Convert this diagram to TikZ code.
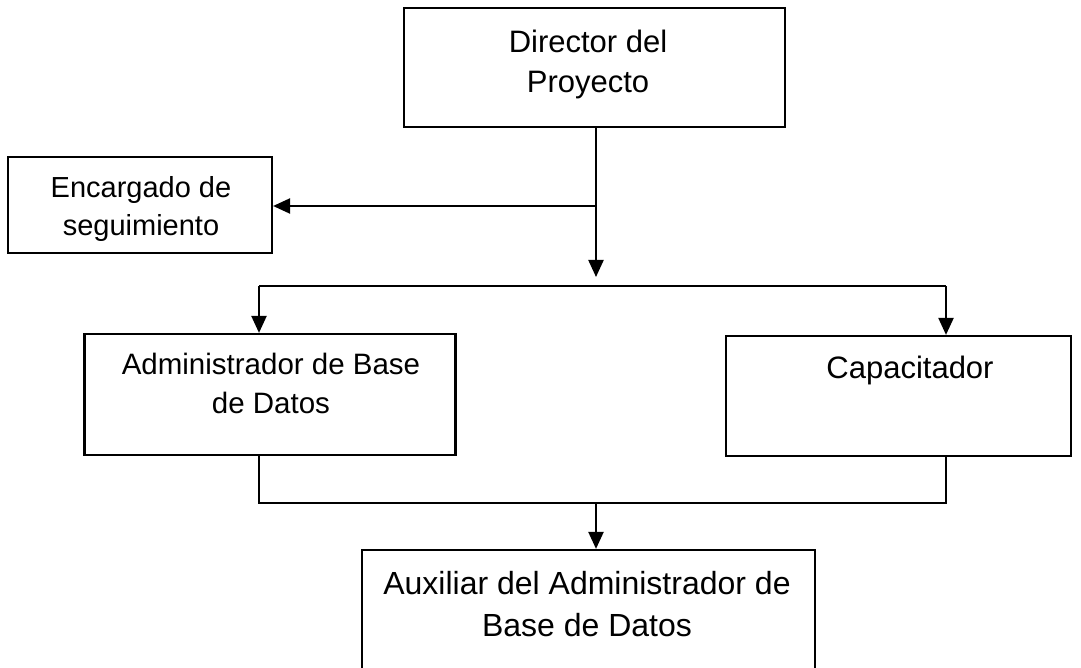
\documentclass[tikz,border=0pt]{standalone}
\usepackage{fontspec}
\setmainfont{Liberation Sans}
\usetikzlibrary{arrows.meta}
\tikzset{
  box/.style={draw=black, line width=2.2pt, inner sep=0pt, fill=none},
  lbl/.style={inner sep=0pt, align=center, anchor=base, text=black},
  conn/.style={draw=black, line width=2.2pt},
  arr/.style={conn, -{Triangle[length=17pt,width=15pt]}}
}
\begin{document}
\begin{tikzpicture}[x=1pt,y=-1pt]
\useasboundingbox (0,0) rectangle (1081,668);
\clip (0,0) rectangle (1081,668);
\fill[white] (0,0) rectangle (1081,668);
% boxes
\node[box, minimum width=381pt, minimum height=119pt] (dir) at (594.5,67.5) {};
\node[box, minimum width=264pt, minimum height=96pt] (enc) at (140,205) {};
\node[box, minimum width=371pt, minimum height=121pt] (adm) at (270,394.5) {};
\node[box, minimum width=345pt, minimum height=120pt] (cap) at (898.5,396) {};
\node[box, minimum width=453pt, minimum height=150pt] (aux) at (588.5,625) {};
% texts (anchor = baseline of last line)
\node[lbl, font=\fontsize{31pt}{40pt}\selectfont] (dirT) at (588,93) {Director del\\Proyecto};
\node[lbl, font=\fontsize{29pt}{38pt}\selectfont] (encT) at (141,236) {Encargado de\\seguimiento};
\node[lbl, font=\fontsize{29.5pt}{39pt}\selectfont] (admT) at (271,413) {Administrador de Base\\de Datos};
\node[lbl, font=\fontsize{31pt}{38pt}\selectfont] (capT) at (910,378) {Capacitador};
\node[lbl, font=\fontsize{32pt}{42pt}\selectfont] (auxT) at (587,636) {Auxiliar del Administrador de\\Base de Datos};
% coordinates
\coordinate (split) at (596,206);
\coordinate (tipA) at (596,277);
\coordinate (busL) at (259,286);
\coordinate (busR) at (946,286);
\coordinate (joinL) at (259,503);
\coordinate (joinR) at (946,503);
\coordinate (joinM) at (596,503);
% connectors
\draw[arr] (dir.south -| tipA) -- (tipA);
\draw[arr] (split) -- (split -| enc.east);
\draw[conn] (busL) -- (busR);
\draw[arr] (busL) -- (busL |- adm.north);
\draw[arr] (busR) -- (busR |- cap.north);
\draw[conn] (adm.south -| joinL) -- (joinL) -- (joinR) -- (cap.south -| joinR);
\draw[arr] (joinM) -- (joinM |- aux.north);
\end{tikzpicture}
\end{document}
